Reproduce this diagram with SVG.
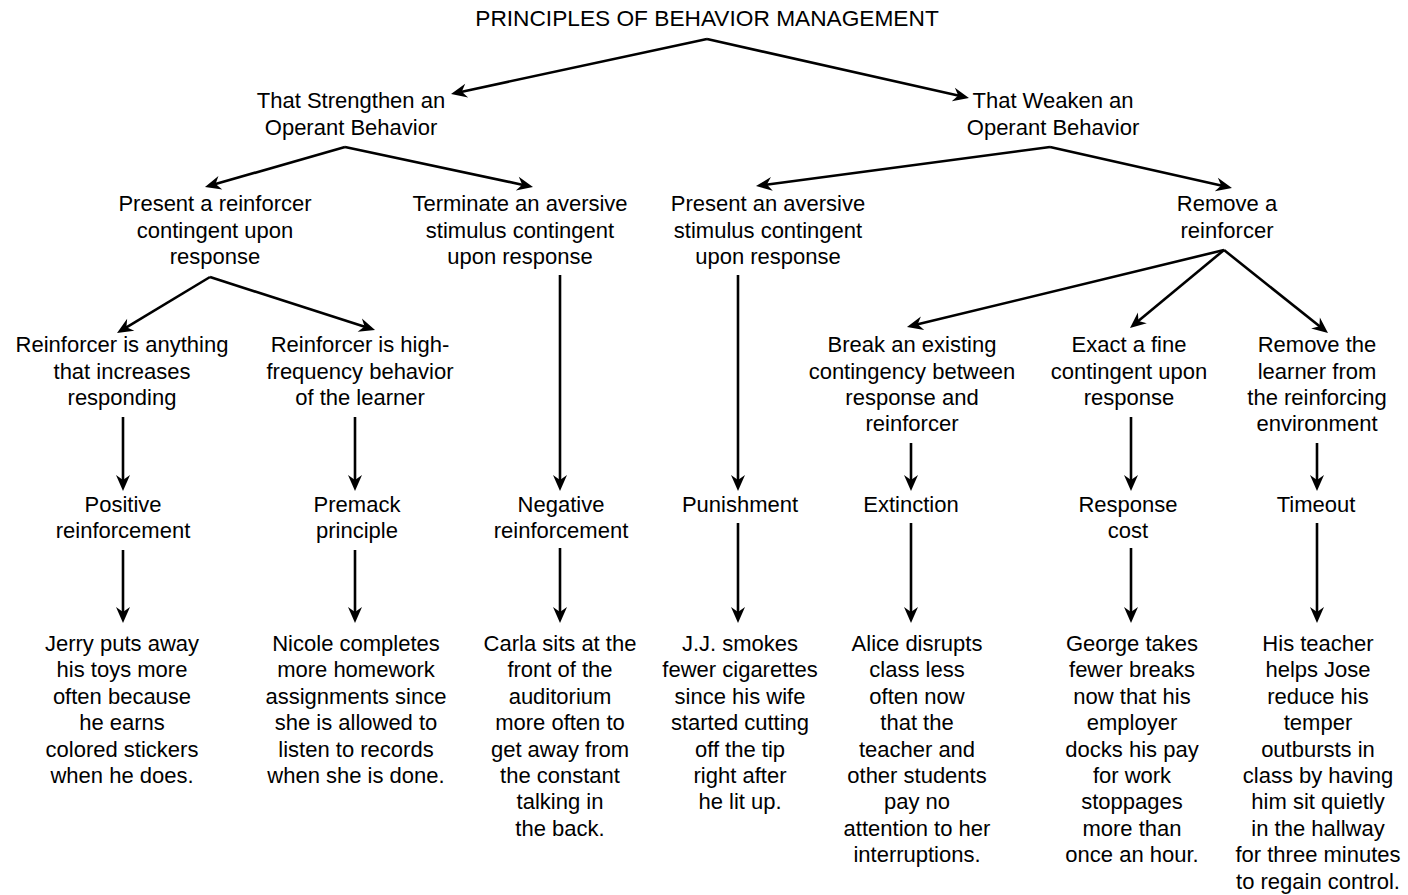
<svg xmlns="http://www.w3.org/2000/svg" width="1408" height="895" viewBox="0 0 1408 895">
  <style>
    text { font-family: "Liberation Sans", Arial, Helvetica, sans-serif; font-size: 22px; fill: #000; text-anchor: middle; }
    .heading { font-size: 22.7px; }
    .link { fill: none; stroke: #000; stroke-width: 2.6; marker-end: url(#arrow); }
  </style>
  <defs>
    <!-- barbed arrowhead; tip lies 10px beyond the end of the line -->
    <marker id="arrow" viewBox="0 -7 16 14" refX="6" refY="0" markerWidth="16" markerHeight="14" markerUnits="userSpaceOnUse" orient="auto" overflow="visible">
      <path d="M0,-7 L16,0 L0,7 L5,0 Z" fill="#000"/>
    </marker>
  </defs>
  <rect width="1408" height="895" fill="#fff"/>

  <g id="connectors">
    <!-- root to the two branches -->
    <line class="link" x1="707" y1="39" x2="460.8" y2="91.9"/>
    <line class="link" x1="707" y1="39" x2="959.2" y2="95.8"/>
    <!-- strengthen branch -->
    <line class="link" x1="345" y1="147" x2="214.6" y2="184.3"/>
    <line class="link" x1="345" y1="147" x2="523.2" y2="184.9"/>
    <!-- weaken branch -->
    <line class="link" x1="1050" y1="147" x2="765.9" y2="184.7"/>
    <line class="link" x1="1050" y1="147" x2="1222.2" y2="185.8"/>
    <!-- present a reinforcer -->
    <line class="link" x1="210" y1="277" x2="125.6" y2="327.8"/>
    <line class="link" x1="210" y1="277" x2="365.5" y2="326.9"/>
    <!-- remove a reinforcer -->
    <line class="link" x1="1224" y1="250" x2="916.7" y2="324.6"/>
    <line class="link" x1="1224" y1="250" x2="1137.7" y2="321.6"/>
    <line class="link" x1="1224" y1="250" x2="1320.2" y2="326.8"/>
    <!-- vertical chains -->
    <line class="link" x1="123" y1="417" x2="123" y2="481"/>
    <line class="link" x1="123" y1="550" x2="123" y2="613"/>
    <line class="link" x1="355" y1="417" x2="355" y2="481"/>
    <line class="link" x1="355" y1="550" x2="355" y2="613"/>
    <line class="link" x1="560" y1="275" x2="560" y2="481"/>
    <line class="link" x1="560" y1="548" x2="560" y2="613"/>
    <line class="link" x1="738" y1="275" x2="738" y2="481"/>
    <line class="link" x1="738" y1="523" x2="738" y2="613"/>
    <line class="link" x1="911" y1="443" x2="911" y2="481"/>
    <line class="link" x1="911" y1="523" x2="911" y2="613"/>
    <line class="link" x1="1131" y1="417" x2="1131" y2="481"/>
    <line class="link" x1="1131" y1="548" x2="1131" y2="613"/>
    <line class="link" x1="1317" y1="443" x2="1317" y2="481"/>
    <line class="link" x1="1317" y1="523" x2="1317" y2="613"/>
  </g>

  <g id="title">
    <text class="heading" x="707" y="26">PRINCIPLES OF BEHAVIOR MANAGEMENT</text>
  </g>

  <g id="strengthen">
    <text x="351" y="108">That Strengthen an</text>
    <text x="351" y="135">Operant Behavior</text>
  </g>
  <g id="weaken">
    <text x="1053" y="108">That Weaken an</text>
    <text x="1053" y="135">Operant Behavior</text>
  </g>

  <g id="present-reinforcer">
    <text x="215" y="211">Present a reinforcer</text>
    <text x="215" y="238">contingent upon</text>
    <text x="215" y="264">response</text>
  </g>
  <g id="terminate-aversive">
    <text x="520" y="211">Terminate an aversive</text>
    <text x="520" y="238">stimulus contingent</text>
    <text x="520" y="264">upon response</text>
  </g>
  <g id="present-aversive">
    <text x="768" y="211">Present an aversive</text>
    <text x="768" y="238">stimulus contingent</text>
    <text x="768" y="264">upon response</text>
  </g>
  <g id="remove-reinforcer">
    <text x="1227" y="211">Remove a</text>
    <text x="1227" y="238">reinforcer</text>
  </g>

  <g id="reinforcer-anything">
    <text x="122" y="352">Reinforcer is anything</text>
    <text x="122" y="379">that increases</text>
    <text x="122" y="405">responding</text>
  </g>
  <g id="reinforcer-high-frequency">
    <text x="360" y="352">Reinforcer is high-</text>
    <text x="360" y="379">frequency behavior</text>
    <text x="360" y="405">of the learner</text>
  </g>
  <g id="break-contingency">
    <text x="912" y="352">Break an existing</text>
    <text x="912" y="379">contingency between</text>
    <text x="912" y="405">response and</text>
    <text x="912" y="431">reinforcer</text>
  </g>
  <g id="exact-fine">
    <text x="1129" y="352">Exact a fine</text>
    <text x="1129" y="379">contingent upon</text>
    <text x="1129" y="405">response</text>
  </g>
  <g id="remove-learner">
    <text x="1317" y="352">Remove the</text>
    <text x="1317" y="379">learner from</text>
    <text x="1317" y="405">the reinforcing</text>
    <text x="1317" y="431">environment</text>
  </g>

  <g id="positive-reinforcement">
    <text x="123" y="512">Positive</text>
    <text x="123" y="538">reinforcement</text>
  </g>
  <g id="premack-principle">
    <text x="357" y="512">Premack</text>
    <text x="357" y="538">principle</text>
  </g>
  <g id="negative-reinforcement">
    <text x="561" y="512">Negative</text>
    <text x="561" y="538">reinforcement</text>
  </g>
  <g id="punishment">
    <text x="740" y="512">Punishment</text>
  </g>
  <g id="extinction">
    <text x="911" y="512">Extinction</text>
  </g>
  <g id="response-cost">
    <text x="1128" y="512">Response</text>
    <text x="1128" y="538">cost</text>
  </g>
  <g id="timeout">
    <text x="1316" y="512">Timeout</text>
  </g>

  <g id="example-jerry">
    <text x="122" y="651">Jerry puts away</text>
    <text x="122" y="677.4">his toys more</text>
    <text x="122" y="703.8">often because</text>
    <text x="122" y="730.2">he earns</text>
    <text x="122" y="756.6">colored stickers</text>
    <text x="122" y="783">when he does.</text>
  </g>
  <g id="example-nicole">
    <text x="356" y="651">Nicole completes</text>
    <text x="356" y="677.4">more homework</text>
    <text x="356" y="703.8">assignments since</text>
    <text x="356" y="730.2">she is allowed to</text>
    <text x="356" y="756.6">listen to records</text>
    <text x="356" y="783">when she is done.</text>
  </g>
  <g id="example-carla">
    <text x="560" y="651">Carla sits at the</text>
    <text x="560" y="677.4">front of the</text>
    <text x="560" y="703.8">auditorium</text>
    <text x="560" y="730.2">more often to</text>
    <text x="560" y="756.6">get away from</text>
    <text x="560" y="783">the constant</text>
    <text x="560" y="809.4">talking in</text>
    <text x="560" y="835.8">the back.</text>
  </g>
  <g id="example-jj">
    <text x="740" y="651">J.J. smokes</text>
    <text x="740" y="677.4">fewer cigarettes</text>
    <text x="740" y="703.8">since his wife</text>
    <text x="740" y="730.2">started cutting</text>
    <text x="740" y="756.6">off the tip</text>
    <text x="740" y="783">right after</text>
    <text x="740" y="809.4">he lit up.</text>
  </g>
  <g id="example-alice">
    <text x="917" y="651">Alice disrupts</text>
    <text x="917" y="677.4">class less</text>
    <text x="917" y="703.8">often now</text>
    <text x="917" y="730.2">that the</text>
    <text x="917" y="756.6">teacher and</text>
    <text x="917" y="783">other students</text>
    <text x="917" y="809.4">pay no</text>
    <text x="917" y="835.8">attention to her</text>
    <text x="917" y="862.2">interruptions.</text>
  </g>
  <g id="example-george">
    <text x="1132" y="651">George takes</text>
    <text x="1132" y="677.4">fewer breaks</text>
    <text x="1132" y="703.8">now that his</text>
    <text x="1132" y="730.2">employer</text>
    <text x="1132" y="756.6">docks his pay</text>
    <text x="1132" y="783">for work</text>
    <text x="1132" y="809.4">stoppages</text>
    <text x="1132" y="835.8">more than</text>
    <text x="1132" y="862.2">once an hour.</text>
  </g>
  <g id="example-jose">
    <text x="1318" y="651">His teacher</text>
    <text x="1318" y="677.4">helps Jose</text>
    <text x="1318" y="703.8">reduce his</text>
    <text x="1318" y="730.2">temper</text>
    <text x="1318" y="756.6">outbursts in</text>
    <text x="1318" y="783">class by having</text>
    <text x="1318" y="809.4">him sit quietly</text>
    <text x="1318" y="835.8">in the hallway</text>
    <text x="1318" y="862.2">for three minutes</text>
    <text x="1318" y="888.6">to regain control.</text>
  </g>
</svg>
